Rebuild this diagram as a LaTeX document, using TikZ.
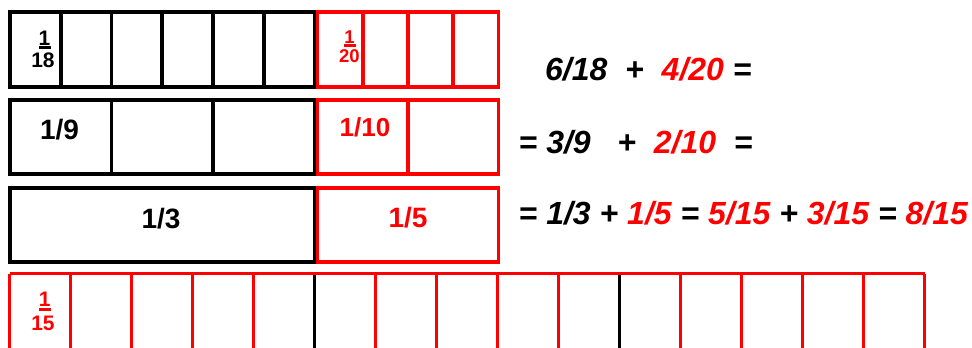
\documentclass[tikz,border=0pt]{standalone}
\usepackage{fontspec}
\setmainfont{Liberation Sans}
\begin{document}
\begin{tikzpicture}[x=1pt,y=-1pt,
  blk/.style={draw=black,line width=3.6pt},
  rd/.style={draw=red,line width=3.6pt},
  blkthin/.style={draw=black,line width=3.3pt},
  rdthin/.style={draw=red,line width=3.3pt},
  lab/.style={inner sep=0pt,anchor=base,font=\bfseries\fontsize{28}{32}\selectfont},
  labs/.style={inner sep=0pt,anchor=base,font=\bfseries\fontsize{26}{30}\selectfont},
  frac/.style={inner sep=0pt,anchor=base,font=\bfseries\fontsize{21}{24}\selectfont},
  fracs/.style={inner sep=0pt,anchor=base,font=\bfseries\fontsize{18.5}{22}\selectfont},
  eq/.style={inner sep=0pt,anchor=base west,font=\bfseries\itshape\fontsize{32}{36}\selectfont}]
\useasboundingbox (0,0) rectangle (972,348);
\clip (0,0) rectangle (972,348);
% row 1: eighteenths and twentieths
\foreach \i in {1,...,5} \draw[blk] ({10+50.75*\i},12) -- ({10+50.75*\i},87);
\draw[blk] (10,12) rectangle (314.5,87);
\foreach \i in {1,2,3} \draw[rd] ({317.5+45.25*\i},12) -- ({317.5+45.25*\i},87);
\draw[rd] (317.5,12) rectangle (498.5,87);
% row 2: ninths and tenths
\foreach \i in {1,2} \draw[blk] ({10+101.5*\i},100) -- ({10+101.5*\i},174);
\draw[blk] (10,100) rectangle (314.5,174);
\draw[rd] (408,100) -- (408,174);
\draw[rd] (317.5,100) rectangle (498.5,174);
% row 3: thirds and fifths
\draw[blk] (10,188) rectangle (314.5,262);
\draw[rd] (317.5,188) rectangle (498.5,262);
% row 4: fifteenths
\foreach \i in {5,10} \draw[blkthin] ({9.5+61*\i},273.5) -- ({9.5+61*\i},352);
\foreach \i in {1,2,3,4,6,7,8,9,11,12,13,14} \draw[rdthin] ({9.5+61*\i},273.5) -- ({9.5+61*\i},352);
\draw[rdthin] (9.5,273.5) -- (924.5,273.5);
\draw[rdthin] (9.5,273.5) -- (9.5,352);
\draw[rdthin] (924.5,273.5) -- (924.5,352);
% stacked fractions
\node[frac] (n18) at (44.5,45) {1};
\draw[line width=2.7pt] (39.3,47.3) -- (50.7,47.3);
\node[frac] (d18) at (43,67.3) {18};
\node[fracs,text=red] (n20) at (349.5,43.3) {1};
\draw[red,line width=2.6pt] (344,45.4) -- (355.7,45.4);
\node[fracs,text=red] (d20) at (349.3,62.7) {20};
\node[frac,text=red] (n15) at (44.8,306) {1};
\draw[red,line width=2.7pt] (39,309.7) -- (50.7,309.7);
\node[frac,text=red] (d15) at (43,330) {15};
% labels
\node[lab] (l9) at (59.5,139) {1/9};
\node[labs,text=red] (l10) at (365,136.7) {1/10};
\node[lab] (l3) at (161,228) {1/3};
\node[lab,text=red] (l5) at (408,227) {1/5};
% equations
\node[eq] (eq1) at (545,80.7) {6/18\ \ +\ \ \textcolor{red}{4/20} =};
\node[eq] (eq2) at (518.5,153.3) {= 3/9\ \ \ +\ \ \textcolor{red}{2/10}\ \ =};
\node[eq] (eq3) at (518.5,224) {= 1/3 + \textcolor{red}{1/5} = \textcolor{red}{5/15} + \textcolor{red}{3/15} = \textcolor{red}{8/15}};
\end{tikzpicture}
\end{document}
